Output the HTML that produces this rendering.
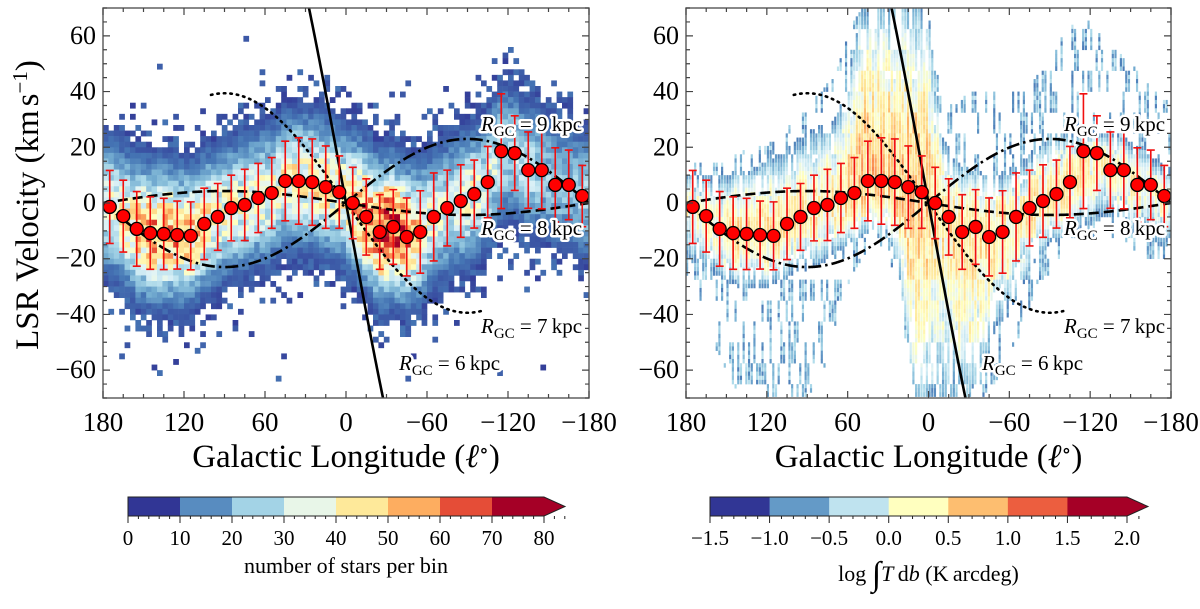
<!DOCTYPE html>
<html><head><meta charset="utf-8"><style>
html,body{margin:0;padding:0;background:#fff;}
svg, svg text{font-family:"Liberation Serif","DejaVu Serif",serif;}
.lbl{paint-order:stroke;stroke:#fff;stroke-width:5px;stroke-linejoin:round;}
</style></head><body>
<svg id="fig" width="1200" height="604" viewBox="0 0 1200 604" xmlns="http://www.w3.org/2000/svg" font-family="Liberation Serif, DejaVu Serif, serif">
<defs>
<clipPath id="clipL"><rect x="103" y="8" width="486" height="390"/></clipPath>
<clipPath id="clipR"><rect x="686" y="8" width="485" height="390"/></clipPath>
</defs>
<g id="left-heat" clip-path="url(#clipL)"></g>
<g id="right-heat" clip-path="url(#clipR)"></g>
<g id="left-curves" clip-path="url(#clipL)"></g>
<g id="right-curves" clip-path="url(#clipR)"></g>
<g id="left-pts"></g>
<g id="right-pts"></g>
<g id="axes"></g>
<g id="labels"></g>
<g id="cbars"></g>
</svg>
<script>
// ---------- data ----------
const pointLon = [175,165,155,145,135,125,115,105,95,85,75,65,55,45,35,25,15,5,-5,-15,-25,-35,-45,-55,-65,-75,-85,-95,-105,-115,-125,-135,-145,-155,-165,-175];
const pointVel = [-1.4,-4.7,-9.3,-10.8,-11.1,-11.5,-11.8,-7.5,-5.0,-1.8,-0.7,1.8,3.6,7.9,7.9,7.5,5.7,3.9,0,-5.0,-10.4,-8.6,-12.2,-10.4,-5.0,-1.8,0.7,3.2,7.5,18.6,17.9,11.8,11.8,6.5,6.5,2.5];
const pointErr = [13.1,12.9,13.4,13,12.8,12.2,12.2,12.8,12,11.8,12.8,12.4,12.7,14.3,15.5,15.5,14.8,13,12.8,13.7,13.4,13.4,14,14.8,15.8,13.6,13,12.2,12.8,20.6,13.4,13.7,13.9,13.3,12.5,11];
const curveNames = ["6","7","8","9"];
const curveAmp = [152,39.4,4.3,-23];
const curveLonMax = [40,100,180,180];
// heatmap model nodes (l = 180,170,...,-180)
const nodeLon = Array.from({length:37},(_,k)=>180-10*k);
const starPeak = [30,35,45,50,55,55,50,45,40,35,35,35,35,35,40,40,40,40,40,55,65,75,65,50,35,30,30,35,30,30,25,25,25,20,20,20,25];
const hiTopDense = [12,10,10,10,12,12,15,18,22,25,28,30,40,70,70,70,70,70,70,25,15,12,12,10,12,15,20,22,25,25,25,25,25,22,20,15,12];
const hiBotDense = [-20,-22,-25,-28,-30,-30,-30,-28,-25,-25,-22,-18,-15,-12,-10,-10,-30,-70,-70,-70,-70,-70,-60,-45,-40,-30,-20,-15,-12,-10,-8,-5,-5,-10,-12,-15,-15];
const hiTopSparse = [15,15,15,15,18,20,20,25,30,35,40,45,60,70,70,70,70,70,70,35,35,40,40,40,40,40,45,50,60,65,65,60,55,50,45,40,35];
const hiBotSparse = [-25,-35,-50,-60,-70,-70,-70,-70,-70,-70,-65,-45,-30,-20,-15,-15,-40,-70,-70,-70,-70,-70,-70,-65,-55,-45,-30,-25,-20,-18,-15,-12,-12,-15,-20,-20,-20];
const hiPeak = [0.2,0.25,0.3,0.4,0.5,0.5,0.5,0.45,0.4,0.35,0.35,0.4,0.6,0.7,0.7,0.7,0.7,0.7,0.6,0.4,0.5,0.6,0.5,0.4,0.3,0.3,0.4,0.5,0.5,0.45,0.35,0.3,0.3,0.3,0.25,0.2,0.2];
const cbLeftTicks = ["0","10","20","30","40","50","60","70","80"];
const cbRightTicks = ["\u22121.5","\u22121.0","\u22120.5","0.0","0.5","1.0","1.5","2.0"];
const cbLeftColors = ["#313695","#588cc0","#a3d3e6","#e8f6e8","#fee99a","#fdad60","#e54d37","#a50026"];
const cbRightColors = ["#313695","#649ac7","#bfe3ef","#ffffbf","#fdbe70","#ec5e3f","#a50026"];

// ---------- helpers ----------
const NS="http://www.w3.org/2000/svg";
const FF="Liberation Serif, DejaVu Serif, serif";
function mk(tag,attrs,parent){const e=document.createElementNS(NS,tag);for(const k in attrs)e.setAttribute(k,attrs[k]);if(tag==="text")e.setAttribute("font-family",FF);if(parent)parent.appendChild(e);return e;}
const panels=[{x0:103,x1:589,side:"left"},{x0:686,x1:1171,side:"right"}];
const Y0=8,Y1=398;
function xs(p,l){return p.x0+(180-l)/360*(p.x1-p.x0);}
function ys(v){return Y0+(70-v)/140*(Y1-Y0);}
function interp(arrX,arrY,x){
  if(x>=arrX[0])return arrY[0]; const n=arrX.length; if(x<=arrX[n-1])return arrY[n-1];
  for(let i=0;i<n-1;i++){if(x<=arrX[i]&&x>=arrX[i+1]){const t=(arrX[i]-x)/(arrX[i]-arrX[i+1]);return arrY[i]+t*(arrY[i+1]-arrY[i]);}}
  return arrY[n-1];}
function hsh(i,j,s){const v=Math.sin(i*12.9898+j*78.233+s*37.719)*43758.5453;return v-Math.floor(v);}
const cmStops=["#313695","#4575b4","#74add1","#abd9e9","#e0f3f8","#ffffbf","#fee090","#fdae61","#f46d43","#d73027","#a50026"].map(h=>[parseInt(h.slice(1,3),16),parseInt(h.slice(3,5),16),parseInt(h.slice(5,7),16)]);
function cmap(t){t=Math.max(0,Math.min(1,t));const f=t*10,i=Math.min(9,Math.floor(f)),u=f-i;const a=cmStops[i],b=cmStops[i+1];
  return "rgb("+Math.round(a[0]+u*(b[0]-a[0]))+","+Math.round(a[1]+u*(b[1]-a[1]))+","+Math.round(a[2]+u*(b[2]-a[2]))+")";}
function meanV(l){return interp(pointLon,pointVel,l);}

// ---------- left heatmap ----------
(function(){
  const g=document.getElementById("left-heat"),p=panels[0];
  const dl=4,dv=2;
  for(let i=0;i<90;i++){
    const lc=180-dl*(i+0.5);
    const c=meanV(lc), pk=interp(nodeLon,starPeak,lc);
    for(let j=0;j<70;j++){
      const vc=70-dv*(j+0.5);
      const d=vc-c;
      let cnt=pk*Math.exp(-0.5*(d/13)*(d/13))+pk*0.07*Math.exp(-Math.abs(d)/12);
      const h1=hsh(i,j,1),h2=hsh(i,j,2);
      if(cnt<4){ if(h1>cnt/4.5) continue; cnt=1+h2*7; }
      else cnt=cnt*(0.65+0.7*h2);
      const r=mk("rect",{x:(xs(p,lc+dl/2)).toFixed(2),y:ys(vc+dv/2).toFixed(2),width:(dl/360*486+0.3).toFixed(2),height:(dv/140*390+0.3).toFixed(2),fill:cmap(cnt/80)},g);
      
      
    }
  }
})();

// ---------- right heatmap ----------
(function(){
  const g=document.getElementById("right-heat"),p=panels[1];
  const dl=2,dv=1.5,nc=180,nr=Math.ceil(140/dv);
  for(let i=0;i<nc;i++){
    const lc=180-dl*(i+0.5);
    const tD=interp(nodeLon,hiTopDense,lc),bD=interp(nodeLon,hiBotDense,lc);
    const tS=interp(nodeLon,hiTopSparse,lc),bS=interp(nodeLon,hiBotSparse,lc);
    const pk=interp(nodeLon,hiPeak,lc);
    const c=Math.max(bD,Math.min(tD,meanV(lc)));
    for(let j=0;j<nr;j++){
      const vc=70-dv*(j+0.5);
      const n=hsh(i,Math.floor(j/5),3),h2=hsh(i,j,4);
      let val;
      if(vc<=tD&&vc>=bD){
        const half=Math.max(vc>=c?tD-c:c-bD,4);
        const d=Math.abs(vc-c)/half;
        if(d>0.6&&n<0.25)continue;
        val=pk-1.5*d*d+(n-0.5)*0.8+(h2-0.5)*0.2;
        if(val<-1.1)val=-1.1+h2*0.3;
      } else if(vc<=tS&&vc>=bS){
        if(n<0.68)continue;
        val=-1.1+0.8*h2;
      } else continue;
      const r=mk("rect",{x:xs(p,lc+dl/2).toFixed(2),y:ys(vc+dv/2).toFixed(2),width:(dl/360*485*0.8).toFixed(2),height:(dv/140*390+0.3).toFixed(2),fill:cmap((val+1.5)/3.5)},g);
      
      
    }
  }
})();

// ---------- curves ----------
const curveStyles=[{da:"",w:2.6},{da:"1.5,5",w:2.6},{da:"10,5",w:2.6},{da:"13,4,2.5,4",w:2.6}];
panels.forEach((p,pi)=>{
  const g=document.getElementById(pi?"right-curves":"left-curves");
  curveAmp.forEach((A,ci)=>{
    const lm=curveLonMax[ci];let d="";
    for(let l=lm;l>=-lm;l-=0.5){const v=A*Math.sin(l*Math.PI/180);d+=(d?"L":"M")+xs(p,l).toFixed(2)+","+ys(v).toFixed(2);}
    const path=mk("path",{d:d,fill:"none",stroke:"#000","stroke-width":curveStyles[ci].w,"stroke-linecap":ci===1?"round":"butt"},g);
    if(curveStyles[ci].da)path.setAttribute("stroke-dasharray",curveStyles[ci].da);
    
    
  });
  const gp=document.getElementById(pi?"right-pts":"left-pts");
  pointLon.forEach((l,k)=>{
    const x=xs(p,l),yv=ys(pointVel[k]),yt=ys(pointVel[k]+pointErr[k]),yb=ys(pointVel[k]-pointErr[k]);
    const eb=mk("path",{d:`M${x},${yt}L${x},${yb}M${x-4},${yt}L${x+4},${yt}M${x-4},${yb}L${x+4},${yb}`,stroke:"#f01010","stroke-width":1.6,fill:"none"},gp);
    
    
    const c=mk("circle",{cx:x,cy:yv,r:6.5,fill:"#f00",stroke:"#000","stroke-width":1.3},gp);
    
    
  });
});

// ---------- axes ----------
(function(){
  const g=document.getElementById("axes");
  const xt=[180,120,60,0,-60,-120,-180],yt=[60,40,20,0,-20,-40,-60];
  const lab=v=>v<0?"\u2212"+(-v):""+v;
  panels.forEach((p,pi)=>{
    const fr=mk("rect",{x:p.x0,y:Y0,width:p.x1-p.x0,height:Y1-Y0,fill:"none",stroke:"#555","stroke-width":1.4},g);
    
    
    let d="";
    for(let l=180;l>=-180;l-=15){const x=xs(p,l),L=(l%60===0)?7:4;d+=`M${x},${Y1}v${-L}M${x},${Y0}v${L}`;}
    for(let v=-70;v<=70;v+=5){const y=ys(v),L=(v%20===0)?7:4;d+=`M${p.x0},${y}h${L}M${p.x1},${y}h${-L}`;}
    mk("path",{d:d,stroke:"#444","stroke-width":1.2,fill:"none"},g);
    xt.forEach(l=>{const t=mk("text",{x:xs(p,l),y:431,"text-anchor":"middle","font-size":27},g);t.textContent=lab(l);
      });
    yt.forEach(v=>{const t=mk("text",{x:p.x0-7,y:ys(v)+8,"text-anchor":"end","font-size":26},g);t.textContent=lab(v);
      });
    const xtl=mk("text",{x:(p.x0+p.x1)/2,y:467,"text-anchor":"middle","font-size":33},g);
    xtl.innerHTML='Galactic Longitude (<tspan font-style="italic">ℓ</tspan><tspan dy="-10" font-size="20">∘</tspan><tspan dy="10">)</tspan>';
    
  });
  const ytl=mk("text",{x:0,y:0,"text-anchor":"middle","font-size":33,transform:"translate(38,205) rotate(-90)"},g);
  ytl.innerHTML='LSR Velocity (km<tspan dx="4">s</tspan><tspan dy="-11" font-size="21">−1</tspan><tspan dy="11">)</tspan>';
  
})();

// ---------- curve labels ----------
(function(){
  const g=document.getElementById("labels");
  const pos=[{k:"9",x:481,y:131},{k:"8",x:481,y:235},{k:"7",x:481,y:333},{k:"6",x:399,y:370}];
  panels.forEach((p,pi)=>{
    pos.forEach(o=>{
      const t=mk("text",{x:o.x+(pi?583:0),y:o.y,"font-size":21,class:"lbl"},g);
      t.innerHTML='<tspan font-style="italic">R</tspan><tspan dy="5" font-size="15">GC</tspan><tspan dy="-5"> = '+o.k+'\u2009kpc</tspan>';
      
      
    });
  });
})();

// ---------- colorbars ----------
(function(){
  const g=document.getElementById("cbars");
  function bar(x0,x1,colors,ticks,name,titleHTML,ty){
    const n=colors.length,w=(x1-x0)/n,y0=497,h=19;
    const gb=mk("g",{},g);
    
    
    colors.forEach((c,i)=>{mk("rect",{x:x0+i*w,y:y0,width:w+0.5,height:h,fill:c},gb);});
    mk("polygon",{points:`${x1},${y0} ${x1+21},${y0+h/2} ${x1},${y0+h}`,fill:colors[n-1]},gb);
    mk("path",{d:`M${x0},${y0}H${x1}L${x1+21},${y0+h/2}L${x1},${y0+h}H${x0}Z`,fill:"none",stroke:"#222","stroke-width":1},gb);
    let d="";const tw=(x1-x0)/(ticks.length-1);
    for(let i=0;i<ticks.length;i++){d+=`M${x0+i*tw},${y0+h}v7`;}
    for(let x=x0;x<=x1+21;x+=tw/5){d+=`M${x},${y0+h}v3`;}
    mk("path",{d:d,stroke:"#222","stroke-width":1},gb);
    ticks.forEach((s,i)=>{const t=mk("text",{x:x0+i*tw,y:545,"text-anchor":"middle","font-size":21},gb);t.textContent=s;});
    const tt=mk("text",{x:(x0+x1)/2+10,y:ty,"text-anchor":"middle","font-size":22},gb);tt.innerHTML=titleHTML;
  }
  bar(128,544,cbLeftColors,cbLeftTicks,"star-count-colorbar","number of stars per bin",573);
  bar(710,1127,cbRightColors,cbRightTicks,"intensity-colorbar",'log <tspan font-size="34" dy="4">∫</tspan><tspan dy="-4" font-style="italic">T</tspan>\u2009d<tspan font-style="italic">b</tspan> (K\u2009arcdeg)',581);
})();
</script>
</body></html>
